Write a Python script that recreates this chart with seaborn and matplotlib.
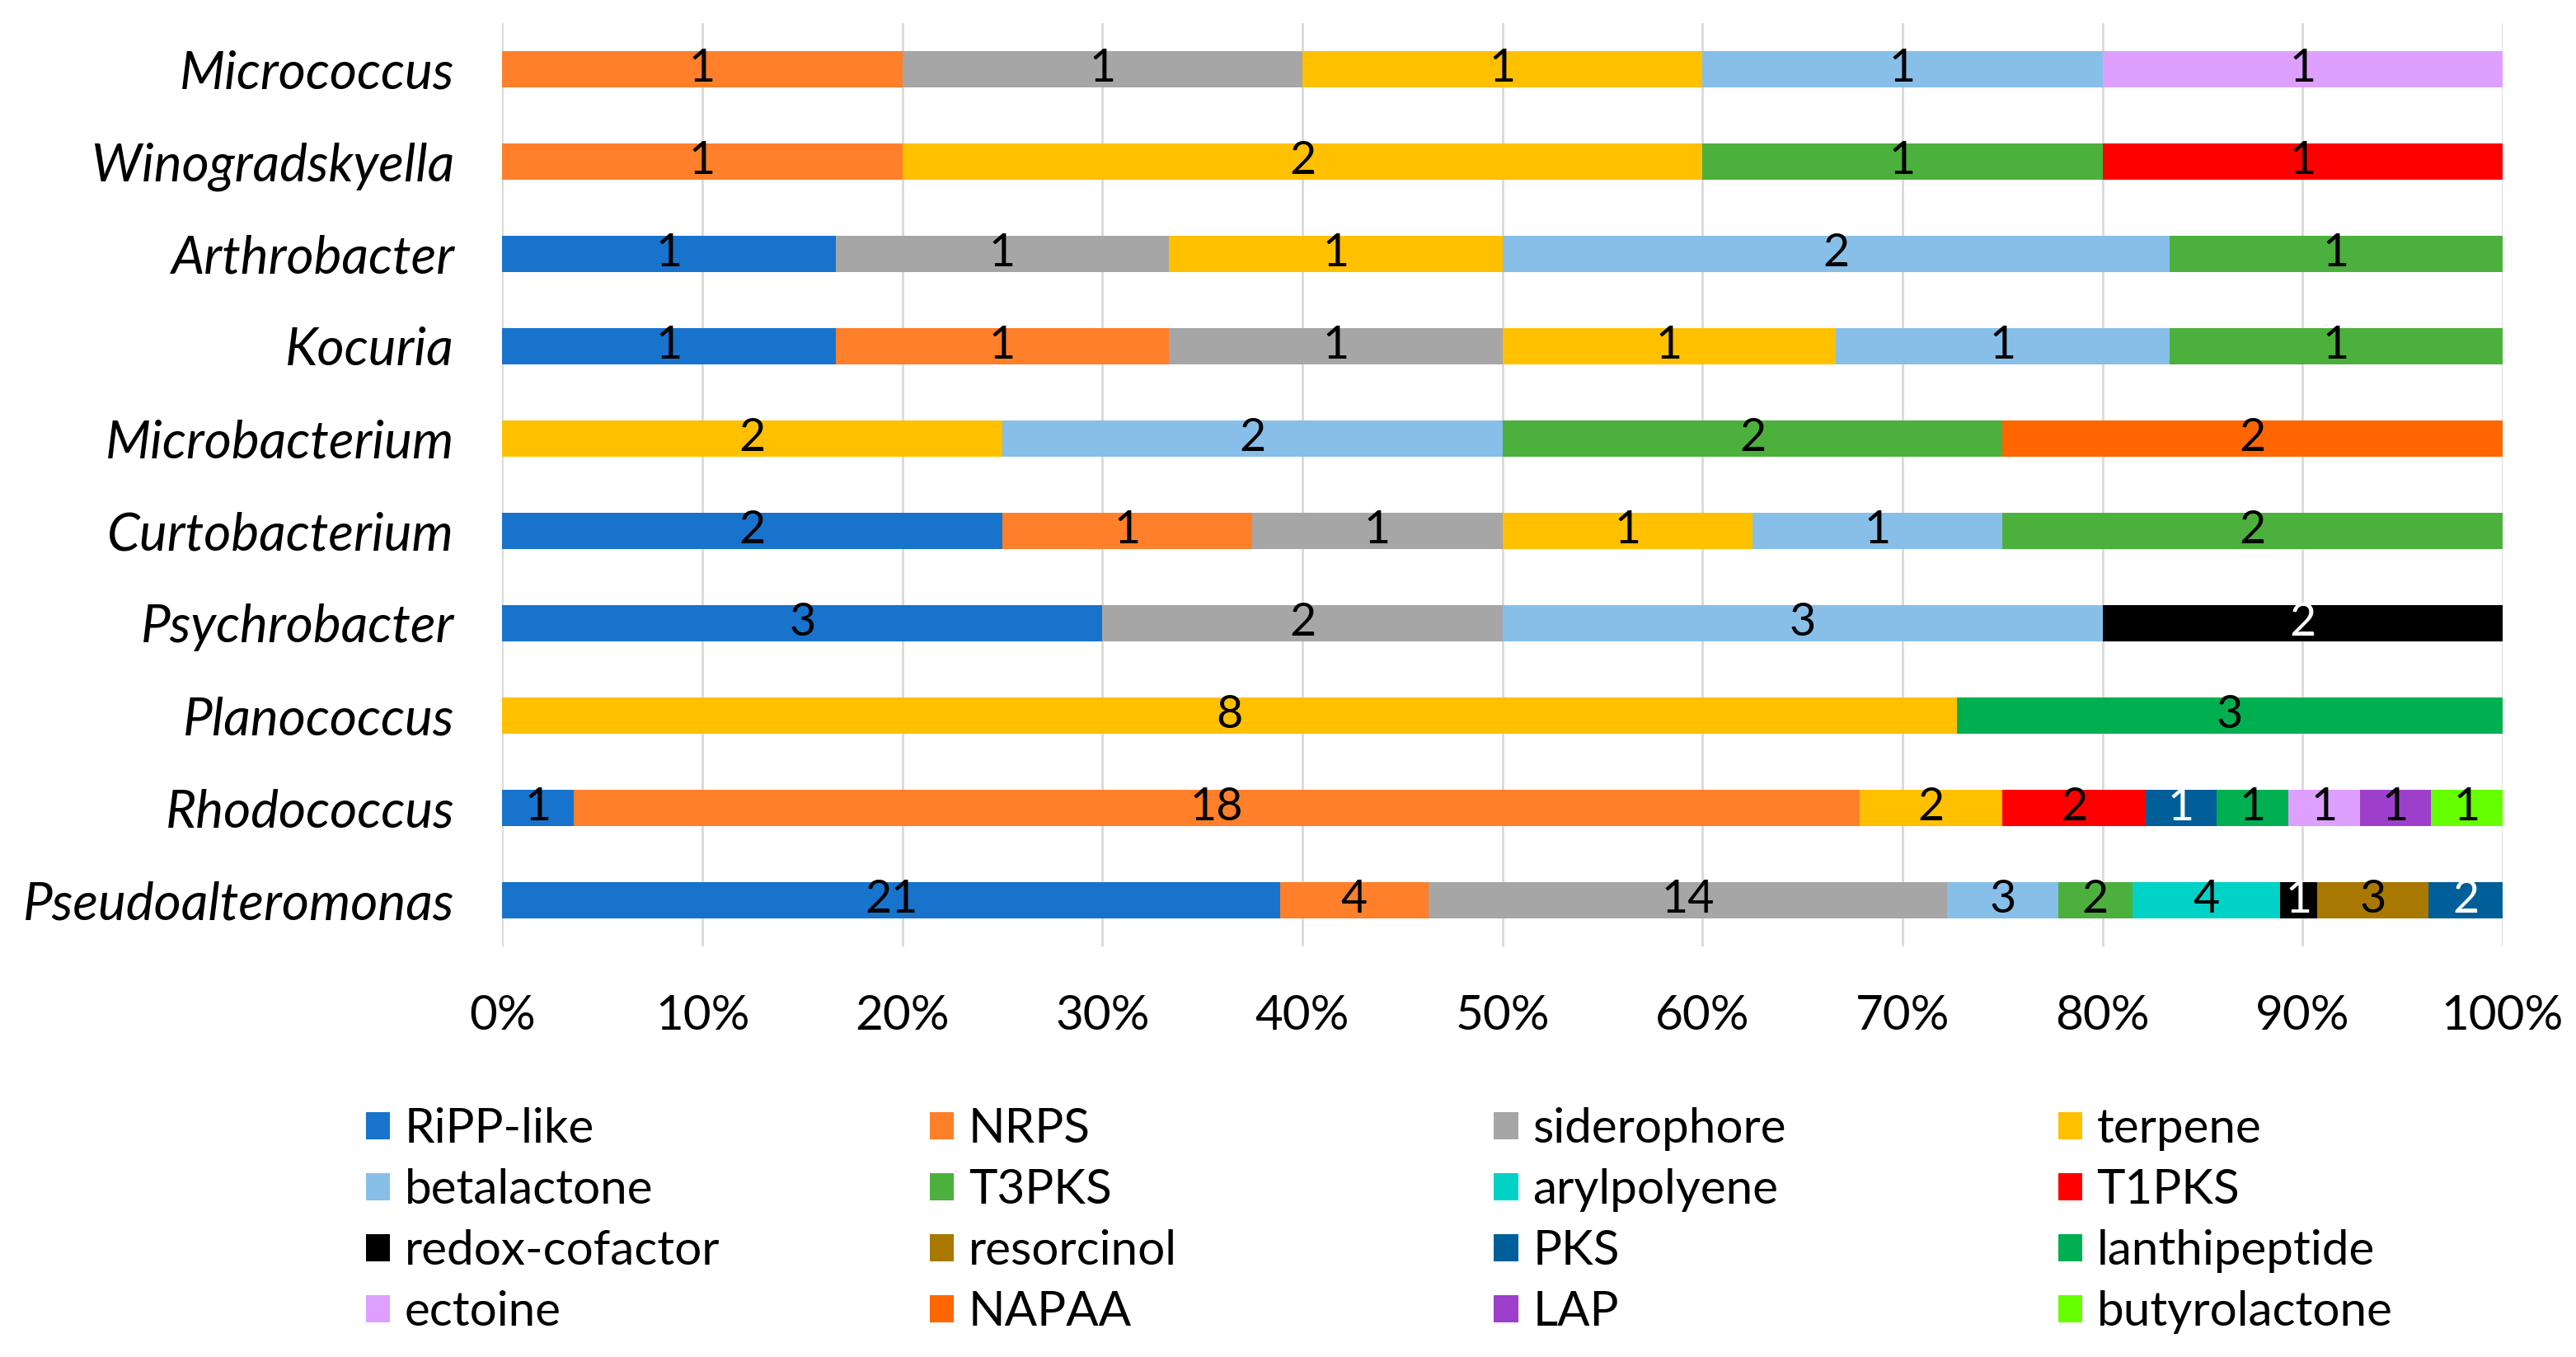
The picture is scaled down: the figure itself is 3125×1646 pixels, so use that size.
import numpy as np
import pandas as pd
import matplotlib
matplotlib.use("Agg")
import matplotlib.pyplot as plt
import seaborn as sns
from matplotlib.patches import Patch

genera = ["Micrococcus", "Winogradskyella", "Arthrobacter", "Kocuria", "Microbacterium",
          "Curtobacterium", "Psychrobacter", "Planococcus", "Rhodococcus", "Pseudoalteromonas"]

types = ["RiPP-like", "NRPS", "siderophore", "terpene", "betalactone", "T3PKS", "arylpolyene",
         "T1PKS", "redox-cofactor", "resorcinol", "PKS", "lanthipeptide", "ectoine", "NAPAA",
         "LAP", "butyrolactone"]

ripp_like      = [0, 0, 1, 1, 0, 2, 3, 0, 1, 21]
nrps           = [1, 1, 0, 1, 0, 1, 0, 0, 18, 4]
siderophore    = [1, 0, 1, 1, 0, 1, 2, 0, 0, 14]
terpene        = [1, 2, 1, 1, 2, 1, 0, 8, 2, 0]
betalactone    = [1, 0, 2, 1, 2, 1, 3, 0, 0, 3]
t3pks          = [0, 1, 1, 1, 2, 2, 0, 0, 0, 2]
arylpolyene    = [0, 0, 0, 0, 0, 0, 0, 0, 0, 4]
t1pks          = [0, 1, 0, 0, 0, 0, 0, 0, 2, 0]
redox_cofactor = [0, 0, 0, 0, 0, 0, 2, 0, 0, 1]
resorcinol     = [0, 0, 0, 0, 0, 0, 0, 0, 0, 3]
pks            = [0, 0, 0, 0, 0, 0, 0, 0, 1, 2]
lanthipeptide  = [0, 0, 0, 0, 0, 0, 0, 3, 1, 0]
ectoine        = [1, 0, 0, 0, 0, 0, 0, 0, 1, 0]
napaa          = [0, 0, 0, 0, 2, 0, 0, 0, 0, 0]
lap            = [0, 0, 0, 0, 0, 0, 0, 0, 1, 0]
butyrolactone  = [0, 0, 0, 0, 0, 0, 0, 0, 1, 0]

series = [ripp_like, nrps, siderophore, terpene, betalactone, t3pks, arylpolyene, t1pks,
          redox_cofactor, resorcinol, pks, lanthipeptide, ectoine, napaa, lap, butyrolactone]

colors = ["#1873CC", "#FF7F2A", "#A6A6A6", "#FFC000", "#87BFE8", "#4CB03C", "#00D2C6", "#FF0000",
          "#000000", "#A87800", "#005F98", "#00B050", "#DDA0FF", "#FF6600", "#9E3FCB", "#66FF00"]
white_label_types = ["redox-cofactor", "PKS"]

xticks = [0.0, 0.1, 0.2, 0.3, 0.4, 0.5, 0.6, 0.7, 0.8, 0.9, 1.0]
xticklabels = ["0%", "10%", "20%", "30%", "40%", "50%", "60%", "70%", "80%", "90%", "100%"]

sns.set_theme(style="white")
plt.rcParams['font.family'] = ['Lato', 'DejaVu Sans']
plt.rcParams['text.color'] = 'black'
plt.rcParams['xtick.color'] = 'black'
plt.rcParams['ytick.color'] = 'black'
plt.rcParams['xtick.labelcolor'] = 'black'
plt.rcParams['ytick.labelcolor'] = 'black'

counts = pd.DataFrame({t: v for t, v in zip(types, series)}, index=genera)
frac = counts.div(counts.sum(axis=1), axis=0)
cum = frac.cumsum(axis=1)
starts = cum - frac

fig = plt.figure(figsize=(15.625, 8.23), dpi=200)
ax = fig.add_axes([0.195, 0.3026, 0.7765, 0.6804])

for t, c in zip(types, colors):
    df = pd.DataFrame({"genus": genera, "x": frac[t].values})
    sns.barplot(data=df, x="x", y="genus", order=genera, orient="h", color=c,
                saturation=1, width=0.4, errorbar=None, ax=ax,
                left=starts[t].values, linewidth=0)

for i, g in enumerate(genera):
    for t in types:
        v = counts.loc[g, t]
        if v > 0:
            xc = starts.loc[g, t] + frac.loc[g, t] / 2
            col = "white" if t in white_label_types else "black"
            ax.text(xc, i, str(v), ha="center", va="center", color=col, fontsize=20)

ax.set_xlim(0, 1)
ax.set_ylim(9.5, -0.5)
ax.set_xticks(xticks)
ax.set_xticklabels(xticklabels, fontsize=21)
ax.tick_params(axis="both", length=0)
ax.tick_params(axis="x", pad=21)
ax.tick_params(axis="y", pad=21)
for lbl in ax.get_yticklabels():
    lbl.set_fontstyle("italic")
    lbl.set_fontsize(23)
    lbl.set_color("black")
ax.set_xlabel("")
ax.set_ylabel("")
for s in ax.spines.values():
    s.set_visible(False)
ax.xaxis.grid(True, color="#D9D9D9", linewidth=1.0)
ax.yaxis.grid(False)
ax.set_axisbelow(True)

col_x = [0.142, 0.361, 0.580, 0.799]
for k in range(4):
    idx = list(range(k, len(types), 4))
    handles = [Patch(facecolor=colors[j], edgecolor="none") for j in idx]
    labels = [types[j] for j in idx]
    fig.legend(handles, labels, loc="upper left", bbox_to_anchor=(col_x[k], 0.184),
               frameon=False, borderpad=0, borderaxespad=0, fontsize=21,
               handlelength=0.5, handleheight=0.5, handletextpad=0.3, labelspacing=0.36,
               labelcolor="black")

fig.savefig("out.png", dpi=200)
